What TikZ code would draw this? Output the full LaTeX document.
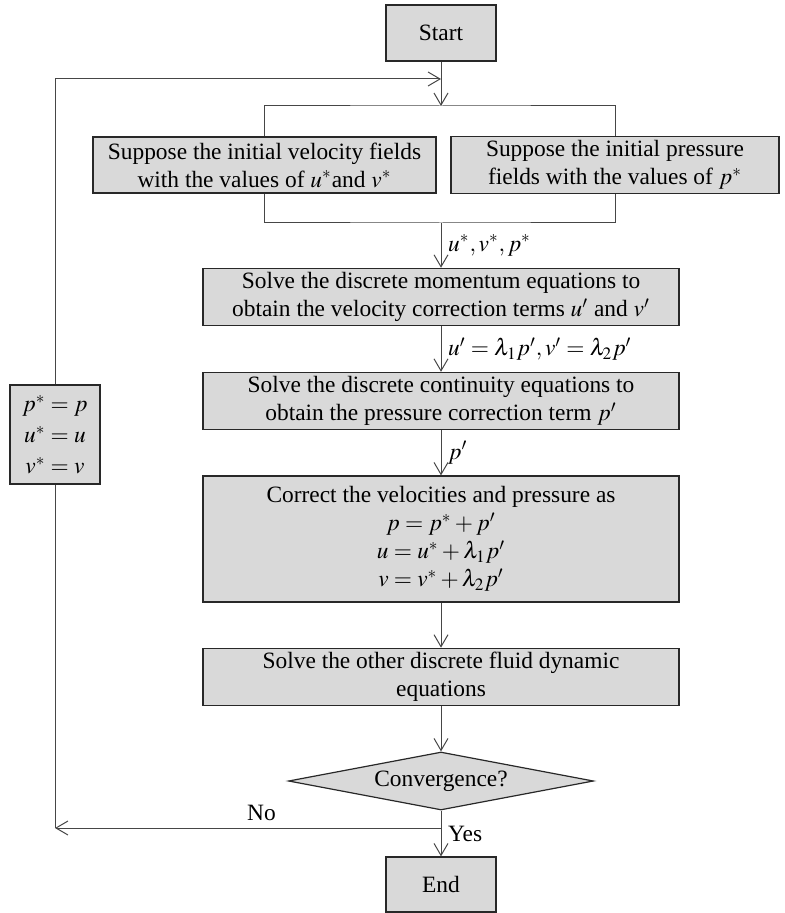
\documentclass[tikz,border=0pt]{standalone}
\usepackage{mathptmx}
\usepackage{fontspec}
\setmainfont{Liberation Serif}
\usepackage{tikz}
\usetikzlibrary{arrows.meta,shapes.geometric}
\definecolor{boxgray}{RGB}{217,217,217}
\definecolor{edge}{RGB}{40,40,40}
\definecolor{wirec}{RGB}{70,70,70}

\begin{document}
\begin{tikzpicture}[
  x=0.5pt, y=-0.5pt,
  box/.style={draw=edge, fill=boxgray, align=center, inner sep=2pt, line width=0.6pt, font=\fontsize{11.7}{14}\selectfont},
  dec/.style={box, diamond, aspect=5.2, inner sep=0pt},
  arr/.style={-{Straight Barb[length=6pt,width=7pt]}, draw=wirec, line width=0.5pt},
  link/.style={draw=wirec, line width=0.5pt},
  lbl/.style={font=\fontsize{11.7}{14}\selectfont}
]
\useasboundingbox (0,0) rectangle (784,913);
\node[box, minimum width=55pt, minimum height=28pt] (start) at (441,33) {Start};
\node[box, minimum width=171.5pt, minimum height=28pt] (vel) at (264.5,165) {Suppose the initial velocity fields\\ with the values of $u^*$and $v^*$};
\node[box, minimum width=164pt, minimum height=28pt] (pre) at (615,165) {Suppose the initial pressure\\ fields with the values of $p^*$};
\node[box, minimum width=238pt, minimum height=28pt] (mom) at (441,297) {Solve the discrete momentum equations to\\ obtain the velocity correction terms $u'$ and $v'$};
\node[box, minimum width=238pt, minimum height=28pt] (con) at (441,401) {Solve the discrete continuity equations to\\ obtain the pressure correction term $p'$};
\node[box, minimum width=238pt, minimum height=63pt] (cor) at (441,539) {Correct the velocities and pressure as\\ $p = p^* + p'$\\ $u = u^* + \lambda_1 p'$\\ $v = v^* + \lambda_2 p'$};
\node[box, minimum width=238pt, minimum height=28pt] (oth) at (441,677) {Solve the other discrete fluid dynamic\\ equations};
\node[dec, minimum width=152.5pt, minimum height=29pt] (conv) at (441,781) {Convergence?};
\node[box, minimum width=55pt, minimum height=27.5pt] (end) at (441,884.5) {End};
\node[box, minimum width=45pt, minimum height=49.5pt, font=\fontsize{11.7}{15.5}\selectfont] (upd) at (55,434.5) {$p^* = p$\\ $u^* = u$\\ $v^* = v$};
\coordinate (fb) at (441,79);
\coordinate (top) at (441,106);
\coordinate (bot) at (441,223);
\coordinate (no) at (441,828);
\draw[arr] (start) -- (top);
\draw[link] (vel.north) |- (top) -| (pre.north);
\draw[link] (vel.south) |- (bot) -| (pre.south);
\draw[arr] (bot) -- (mom) node[lbl, midway, right] {$u^*, v^*, p^*$};
\draw[arr] (mom) -- (con) node[lbl, midway, right] {$u' = \lambda_1 p', v' = \lambda_2 p'$};
\draw[arr] (con) -- (cor) node[lbl, midway, right] {$p'$};
\draw[arr] (cor) -- (oth);
\draw[arr] (oth) -- (conv);
\draw[arr] (conv) -- (end) node[lbl, pos=0.5, right] {Yes};
\draw[arr] (no) -- (upd.south |- no) node[lbl, pos=0.465, above] {No};
\draw[link] (upd.south |- no) -- (upd.south);
\draw[arr] (upd.north) |- (fb);
\end{tikzpicture}
\end{document}
